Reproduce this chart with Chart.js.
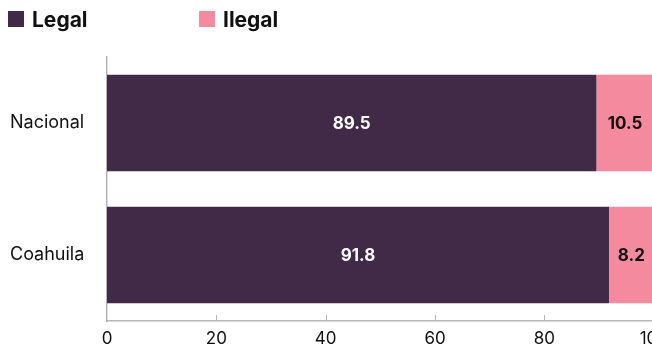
<!DOCTYPE html>
<html>
<head>
<meta charset="utf-8">
<script src="https://cdn.jsdelivr.net/npm/chart.js@4"></script>
<style>
  html, body { margin: 0; padding: 0; background: #fff; overflow: hidden; }
  #wrap { position: relative; width: 676px; height: 347px; }
  #legend { position: absolute; top: 8px; left: 8px; font-family: Inter, sans-serif; font-weight: 700; font-size: 21px; color: #111; }
  .item { position: absolute; top: 0; white-space: nowrap; display: flex; align-items: center; height: 22px; }
  .box { width: 16px; height: 16px; display: inline-block; margin-right: 8px; }
</style>
</head>
<body>
<div id="wrap">
  <div id="legend"></div>
  <canvas id="chart" width="676" height="347"></canvas>
</div>
<script>
const categories = ["Nacional", "Coahuila"];
const legalValues = [89.5, 91.8];
const ilegalValues = [10.5, 8.2];
const xTicks = [0, 20, 40, 60, 80, 100];

const seriesNames = ["Legal", "Ilegal"];
const seriesColors = ["#402a47", "#f38a9e"];
const labelColors = ["#ffffff", "#111111"];
const legendLeft = [0, 191];

const legend = document.querySelector("#legend");
seriesNames.forEach((name, i) => {
  const item = document.createElement("div");
  item.className = "item";
  item.style.left = legendLeft[i] + "px";
  item.innerHTML = `<span class="box" style="background:${seriesColors[i]}"></span>${name}`;
  legend.appendChild(item);
});

const barLabels = {
  id: "barLabels",
  afterDatasetsDraw(chart) {
    const ctx = chart.ctx;
    ctx.save();
    ctx.font = "700 17px Inter, sans-serif";
    ctx.textAlign = "center";
    ctx.textBaseline = "middle";
    chart.data.datasets.forEach((ds, i) => {
      chart.getDatasetMeta(i).data.forEach((bar, j) => {
        const p = bar.getProps(["x", "y", "base"], true);
        ctx.fillStyle = labelColors[i];
        ctx.fillText(ds.data[j].toFixed(1), (p.x + p.base) / 2, p.y + 1);
      });
    });
    ctx.restore();
  }
};

// short tick marks pointing up from the x axis
const innerTicks = {
  id: "innerTicks",
  afterDraw(chart) {
    const ctx = chart.ctx;
    const x = chart.scales.x;
    ctx.save();
    ctx.strokeStyle = "#b5b5b5";
    ctx.lineWidth = 1;
    x.ticks.forEach((t, i) => {
      if (i === 0) return;
      const px = Math.round(x.getPixelForTick(i)) + 0.5;
      ctx.beginPath();
      ctx.moveTo(px, x.top);
      ctx.lineTo(px, x.top - 6);
      ctx.stroke();
    });
    ctx.restore();
  }
};

new Chart(document.querySelector("#chart"), {
  type: "bar",
  data: {
    labels: categories,
    datasets: [
      { label: seriesNames[0], data: legalValues, backgroundColor: seriesColors[0] },
      { label: seriesNames[1], data: ilegalValues, backgroundColor: seriesColors[1] }
    ]
  },
  options: {
    indexAxis: "y",
    responsive: false,
    animation: false,
    layout: { padding: { top: 57, left: 10, right: 0, bottom: 0 } },
    plugins: { legend: { display: false }, tooltip: { enabled: false } },
    datasets: { bar: { categoryPercentage: 0.73, barPercentage: 1 } },
    scales: {
      x: {
        stacked: true,
        min: 0,
        max: 100,
        afterBuildTicks: (s) => { s.ticks = xTicks.map(v => ({ value: v })); },
        afterFit: (s) => { s.height = 26; },
        grid: { display: false, drawTicks: false },
        border: { display: true, color: "#b5b5b5", width: 1.5 },
        ticks: { color: "#111", padding: 8, maxRotation: 0, font: { family: "Inter, sans-serif", size: 17 } }
      },
      y: {
        stacked: true,
        afterFit: (s) => { s.width = 97; },
        grid: { display: false, drawTicks: false },
        border: { display: true, color: "#b5b5b5", width: 1.5 },
        ticks: { color: "#111", crossAlign: "far", padding: 0, font: { family: "Inter, sans-serif", size: 18 } }
      }
    }
  },
  plugins: [barLabels, innerTicks]
});
</script>
</body>
</html>
